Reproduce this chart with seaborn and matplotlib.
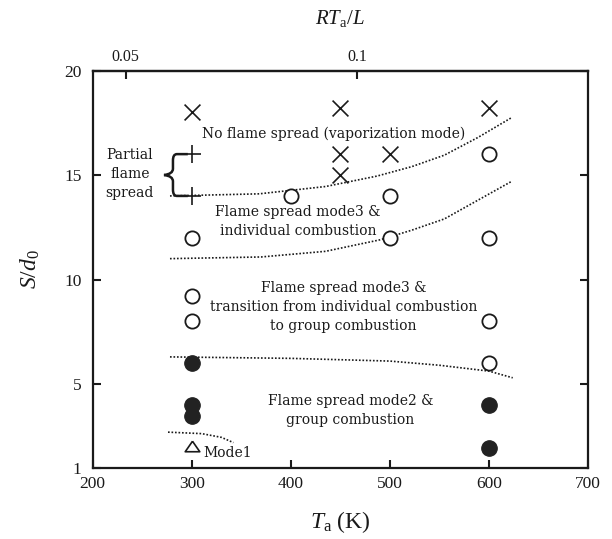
import numpy as np
import pandas as pd
import matplotlib
matplotlib.use("Agg")
import matplotlib.pyplot as plt
from matplotlib.path import Path
from matplotlib.patches import PathPatch
import seaborn as sns

# ---------------- data ----------------
# No flame spread (x markers)
x_T = [300, 450, 600, 450, 500, 450]
x_S = [18.0, 18.2, 18.2, 16.0, 16.0, 15.0]
# Partial flame spread (+ markers)
p_T = [300, 300]
p_S = [16.0, 14.0]
# Flame spread mode3 (open circles)
o_T = [400, 500, 600, 300, 500, 600, 300, 300, 600, 600]
o_S = [14.0, 14.0, 16.0, 12.0, 12.0, 12.0, 9.2, 8.0, 8.0, 6.0]
# Flame spread mode2 (filled circles)
f_T = [300, 300, 300, 600, 600]
f_S = [6.0, 4.0, 3.45, 4.0, 1.95]
# Mode1 (triangle)
t_T = [300]
t_S = [2.05]

# boundary curves (dotted)
b1_T = [278, 368, 435, 487, 522, 555, 589, 623]
b1_S = [14.0, 14.1, 14.45, 14.95, 15.4, 15.95, 16.8, 17.75]
b2_T = [278, 370, 435, 490, 522, 555, 589, 623]
b2_S = [11.0, 11.08, 11.35, 11.9, 12.36, 12.9, 13.8, 14.7]
b3_T = [278, 400, 500, 550, 600, 624]
b3_S = [6.3, 6.23, 6.1, 5.9, 5.62, 5.3]
b4_T = [276, 310, 330, 342]
b4_S = [2.7, 2.63, 2.45, 2.2]

x_ticks = [200, 300, 400, 500, 600, 700]
y_ticks = [1, 5, 10, 15, 20]
top_ticks = [0.05, 0.1, 0.15]
T_per_RTL = 4667.0  # T = RT/L * 4667

# ---------------- style ----------------
sns.set_style("ticks")
plt.rcParams['font.family'] = ['Liberation Serif', 'DejaVu Serif']
plt.rcParams['mathtext.fontset'] = 'custom'
plt.rcParams['mathtext.rm'] = 'Liberation Serif'
plt.rcParams['mathtext.it'] = 'Liberation Serif:italic'
plt.rcParams['mathtext.bf'] = 'Liberation Serif:bold'

fig = plt.figure(figsize=(6.12, 5.39), dpi=100)
ax = fig.add_axes([0.1515, 0.1323, 0.8093, 0.7369])

k = '#1a1a1a'
df_x = pd.DataFrame({'T': x_T, 'S': x_S})
df_p = pd.DataFrame({'T': p_T, 'S': p_S})
df_o = pd.DataFrame({'T': o_T, 'S': o_S})
df_f = pd.DataFrame({'T': f_T, 'S': f_S})
df_t = pd.DataFrame({'T': t_T, 'S': t_S})

sns.scatterplot(data=df_x, x='T', y='S', marker='x', s=130, color=k,
                linewidth=1.2, ax=ax, zorder=3)
sns.scatterplot(data=df_p, x='T', y='S', marker='+', s=150, color=k,
                linewidth=1.2, ax=ax, zorder=3)
sns.scatterplot(data=df_o, x='T', y='S', marker='o', s=105, facecolor='white',
                edgecolor=k, linewidth=1.3, ax=ax, zorder=3)
sns.scatterplot(data=df_f, x='T', y='S', marker='o', s=125, color='#222222',
                edgecolor='#222222', linewidth=0.8, ax=ax, zorder=3)
tri = [(0, 0.72), (-1, -0.72), (1, -0.72), (0, 0.72)]
sns.scatterplot(data=df_t, x='T', y='S', marker=tri, s=110, facecolor='white',
                edgecolor=k, linewidth=1.2, ax=ax, zorder=3)

for bt, bs in [(b1_T, b1_S), (b2_T, b2_S), (b3_T, b3_S), (b4_T, b4_S)]:
    d = pd.DataFrame({'T': bt, 'S': bs})
    sns.lineplot(data=d, x='T', y='S', sort=False, ax=ax, color=k,
                 linewidth=1.2, linestyle=(0, (1, 1.1)), zorder=2)

# brace for partial flame spread
verts = [(296, 16.0), (285, 16.0), (281, 16.0), (281, 15.7), (281, 15.3),
         (281, 15.05), (272, 15.0),
         (281, 14.95), (281, 14.7), (281, 14.3), (281, 14.0), (285, 14.0),
         (296, 14.0)]
codes = [Path.MOVETO, Path.LINETO, Path.CURVE3, Path.CURVE3, Path.LINETO,
         Path.CURVE3, Path.CURVE3,
         Path.CURVE3, Path.CURVE3, Path.LINETO, Path.CURVE3, Path.CURVE3,
         Path.LINETO]
ax.add_patch(PathPatch(Path(verts, codes), facecolor='none', edgecolor=k,
                       linewidth=1.8, zorder=2))

# annotations
af = dict(family='DejaVu Serif', fontsize=10, color=k)
ax.text(443, 16.97, 'No flame spread (vaporization mode)', ha='center', va='center', **af)
ax.text(237.5, 15.05, 'Partial\nflame\nspread', ha='center', va='center',
        linespacing=1.45, **af)
ax.text(407, 12.78, 'Flame spread mode3 &\nindividual combustion', ha='center',
        va='center', linespacing=1.45, **af)
ax.text(453, 8.69, 'Flame spread mode3 &\ntransition from individual combustion\nto group combustion',
        ha='center', va='center', linespacing=1.45, **af)
ax.text(460, 3.74, 'Flame spread mode2 &\ngroup combustion', ha='center',
        va='center', linespacing=1.45, **af)
ax.text(312, 1.7, 'Mode1', ha='left', va='center', **af)

# axes
ax.set_xlim(200, 700)
ax.set_ylim(1, 20)
ax.set_xticks(x_ticks)
ax.set_yticks(y_ticks)
ax.set_xticklabels([str(v) for v in x_ticks])
ax.set_yticklabels([str(v) for v in y_ticks])
ax.tick_params(axis='both', direction='in', length=6, width=1.5, labelsize=12.5,
               colors=k)
ax.tick_params(axis='x', pad=6)
ax.tick_params(axis='y', pad=8, right=True)
for sp in ax.spines.values():
    sp.set_visible(True)
    sp.set_linewidth(1.6)
    sp.set_color(k)

ax.set_xlabel(r'$T_{\mathrm{a}}$ (K)', fontsize=17, labelpad=12, color=k)
ax.set_ylabel(r'$S/d_0$', fontsize=17, labelpad=16, color=k)

sec = ax.secondary_xaxis('top', functions=(lambda t: t / T_per_RTL,
                                           lambda r: r * T_per_RTL))
sec.set_xticks(top_ticks)
sec.set_xticklabels(['0.05', '0.1', '0.15'])
sec.tick_params(axis='x', direction='in', length=6, width=1.5, labelsize=11.5,
                pad=4, colors=k)
sec.spines['top'].set_linewidth(1.6)
sec.set_xlabel(r'$RT_{\mathrm{a}}/L$', fontsize=15, labelpad=18, color=k)

fig.savefig('out.png', dpi=100, facecolor='white')
